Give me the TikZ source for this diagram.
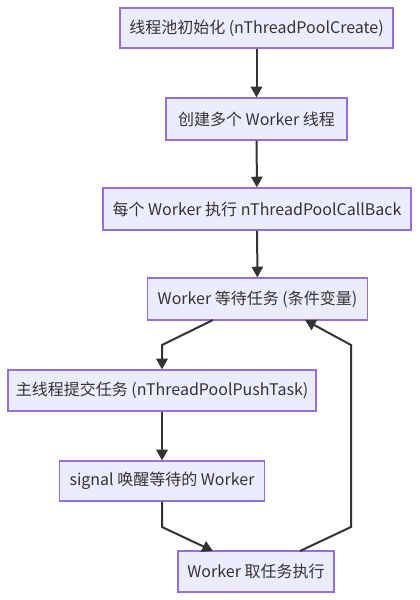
\documentclass[tikz,border=0pt]{standalone}
\usepackage{fontspec}
\setmainfont{Noto Sans CJK SC}
\usetikzlibrary{arrows.meta}
\definecolor{nodefill}{HTML}{ECECFF}
\definecolor{nodeline}{HTML}{9370DB}
\definecolor{edge}{HTML}{333333}
\tikzset{
  box/.style={draw=nodeline, fill=nodefill, line width=0.9pt, rectangle, inner sep=0pt,
    text=edge, font=\fontsize{12}{14}\selectfont, anchor=center},
  arr/.style={draw=edge, line width=1.5pt, -{Triangle[length=8pt,width=8.5pt]}},
}
\begin{document}
\begin{tikzpicture}[x=0.75pt,y=-0.75pt]
\useasboundingbox (0,0) rectangle (419,600);
\node[box, minimum width=273*0.75pt, minimum height=40*0.75pt] (n1) at (256.5,28) {线程池初始化 (nThreadPoolCreate)};
\node[box, minimum width=181*0.75pt, minimum height=42*0.75pt] (n2) at (256.5,119) {创建多个 Worker 线程};
\node[box, minimum width=308*0.75pt, minimum height=42*0.75pt] (n3) at (257,209) {每个 Worker 执行 nThreadPoolCallBack};
\node[box, minimum width=220*0.75pt, minimum height=42*0.75pt] (n4) at (257.5,299) {Worker 等待任务 (条件变量)};
\node[box, minimum width=308*0.75pt, minimum height=41*0.75pt] (n5) at (162,390.5) {主线程提交任务 (nThreadPoolPushTask)};
\node[box, minimum width=205*0.75pt, minimum height=40*0.75pt] (n6) at (162,481) {signal 唤醒等待的 Worker};
\node[box, minimum width=156*0.75pt, minimum height=41*0.75pt] (n7) at (256,571.5) {Worker 取任务执行};
\coordinate (a1) at (213,320);
\coordinate (k1) at (162,345);
\coordinate (k2) at (162,527);
\coordinate (b2) at (213,551);
\coordinate (c1) at (300,551);
\coordinate (k3) at (351,527);
\coordinate (k4) at (351,345);
\coordinate (c2) at (305,320);
\draw[arr] (n1) -- (n2);
\draw[arr] (n2) -- (n3);
\draw[arr] (n3) -- (n4);
\draw[arr] (a1) -- (k1) -- (n5.north);
\draw[arr] (n5) -- (n6);
\draw[arr] (n6.south) -- (k2) -- (b2);
\draw[arr] (c1) -- (k3) -- (k4) -- (c2);
\end{tikzpicture}
\end{document}
